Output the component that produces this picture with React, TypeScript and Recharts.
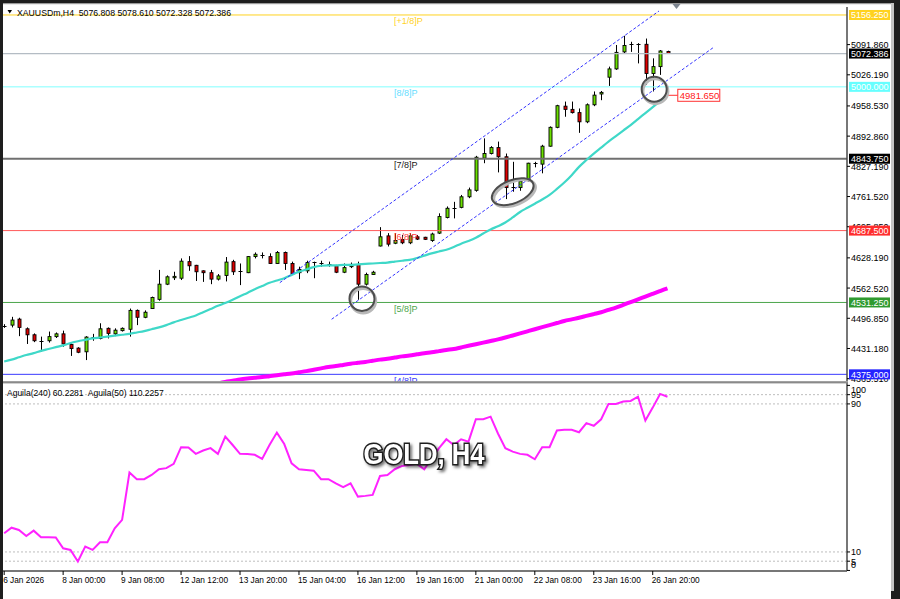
import React from 'react';
import { ComposedChart, Bar, Line, XAxis, YAxis, ReferenceLine, ReferenceDot } from 'recharts';

// ---------- data ----------
const opens = [
  4481, 4482, 4495, 4474, 4461, 4447, 4448, 4457, 4463, 4440,
  4432, 4424, 4455, 4453, 4475, 4463, 4470, 4473, 4514, 4499,
  4518, 4538, 4571, 4585, 4584, 4620, 4612, 4600, 4596, 4582,
  4590, 4620, 4598, 4596, 4631, 4635, 4631, 4616, 4640, 4616,
  4596, 4600, 4618, 4616.5, 4615.5, 4611, 4597, 4609, 4614, 4571,
  4592, 4654, 4676, 4660, 4668, 4661, 4674, 4673, 4666, 4682,
  4716, 4735, 4738, 4761, 4775, 4845, 4855, 4868, 4848, 4782,
  4781, 4796, 4833.5, 4832, 4871, 4912, 4958, 4951, 4944, 4924,
  4961, 4984.5, 5021, 5039, 5076, 5092, 5092.5, 5092.5, 5029, 5044,
  5076.808,
];
const highs = [
  4484, 4500, 4498, 4477, 4464, 4457, 4468, 4466, 4470, 4442,
  4434, 4458, 4463, 4486, 4477, 4475, 4477, 4518, 4516, 4514,
  4544, 4602, 4590, 4598, 4627, 4632, 4613, 4601, 4602, 4593,
  4630, 4624, 4616, 4632, 4640, 4640, 4638, 4643, 4642, 4620,
  4609, 4622, 4620, 4622, 4620, 4613, 4616, 4618, 4620, 4596,
  4600, 4695, 4682, 4682, 4678, 4682, 4678, 4674, 4683, 4725,
  4740, 4750, 4765, 4781, 4850, 4888, 4871, 4881, 4855, 4837,
  4801, 4835, 4837, 4874, 4914, 4961, 4968, 4968, 4953, 4964,
  4990, 4991, 5044, 5091, 5111, 5098, 5095, 5105, 5062, 5080,
  5078.61,
];
const lows = [
  4476, 4477, 4458, 4441, 4445, 4424, 4444, 4454, 4435, 4415,
  4421, 4406, 4448, 4451, 4453, 4458, 4468, 4457, 4482, 4497,
  4517, 4535, 4569, 4580, 4580, 4600, 4578, 4576, 4571, 4579,
  4577, 4591, 4569, 4595, 4627, 4627, 4615, 4615, 4602, 4591,
  4582, 4595, 4584, 4609, 4609, 4595, 4595, 4606, 4537, 4568,
  4591, 4653, 4653, 4658, 4658, 4658, 4667, 4667, 4663, 4680,
  4714, 4714, 4736, 4758, 4772, 4834, 4853, 4814, 4756, 4772,
  4774, 4794, 4825, 4812, 4870, 4910, 4935, 4942, 4900, 4921,
  4958, 4971, 5002, 5037, 5073, 5076, 5051, 5004, 4990, 5026,
  5072.328,
];
const closes = [
  4480, 4493, 4477, 4461, 4448, 4448, 4457, 4463, 4441, 4431,
  4423, 4456, 4456, 4474, 4464, 4471, 4475, 4514, 4499, 4510,
  4542, 4571, 4587, 4588, 4621, 4611, 4598, 4596, 4582, 4589,
  4619, 4598, 4599, 4631, 4636, 4635.5, 4616, 4640, 4616, 4593,
  4603, 4618, 4618.5, 4616, 4614.5, 4597, 4607, 4614, 4571, 4592,
  4597, 4674, 4658, 4666, 4661, 4676, 4669, 4668.5, 4680, 4718,
  4736, 4737, 4761, 4776, 4847, 4855, 4868, 4848, 4781, 4781,
  4795, 4834, 4834, 4871, 4912, 4959, 4951, 4944, 4924, 4961,
  4982, 4988, 5039, 5075, 5090, 5092.5, 5092, 5029, 5044, 5078,
  5072.386,
];
const maTurquoise = [
  4403, 4407, 4412, 4417, 4421, 4426, 4430, 4434, 4438, 4443,
  4447, 4450, 4453, 4455, 4457, 4459, 4461, 4463, 4466, 4469,
  4473, 4477, 4482, 4488, 4493, 4498, 4503, 4510, 4517, 4524,
  4530, 4537, 4545, 4552, 4560, 4567, 4574, 4579, 4584, 4591,
  4598, 4603, 4608, 4611, 4612, 4612, 4613, 4613, 4614, 4615,
  4616, 4617, 4618, 4620, 4622, 4624, 4628, 4633, 4638, 4642,
  4646, 4652, 4659, 4665, 4672, 4681, 4690, 4697, 4705, 4716,
  4728, 4737, 4746, 4755, 4765, 4778, 4792, 4808, 4826, 4841,
  4855, 4868, 4881, 4893, 4905, 4917, 4930, 4943, 4956, 4969,
  4982,
];
const maMagenta: (number | null)[] = [
  null, null, null, null, null, null, null, null, null, null,
  null, null, null, null, null, null, null, null, null, null,
  null, null, null, null, null, null, null, null, 4352, 4355,
  4358.5, 4361, 4364, 4366, 4367.5, 4369, 4371, 4373, 4375, 4377,
  4379.5, 4382, 4385, 4388, 4391, 4393, 4395.5, 4398, 4400, 4402,
  4404.5, 4407, 4409, 4411.5, 4414, 4416, 4418.5, 4421, 4423, 4425.5,
  4428, 4430, 4433.5, 4437, 4440.5, 4444, 4447.5, 4451, 4455, 4459.5,
  4464, 4468.5, 4473, 4477.5, 4482, 4486.5, 4491, 4494.5, 4498, 4502,
  4506, 4510, 4515, 4520, 4526, 4532, 4538, 4544, 4550, 4556,
  4562,
];
const aguila = [
  20.1, 23.1, 21.9, 18.6, 21.5, 17.9, 17.9, 17.8, 12.0, 11.1,
  4.8, 12.9, 11.1, 15.2, 15.2, 22.8, 27.3, 52.9, 49.3, 49.3,
  51.6, 54.7, 55.3, 57.6, 66.6, 66.4, 63.0, 64.8, 66.1, 63.0,
  72.3, 67.8, 63.0, 62.9, 62.5, 60.3, 67.8, 74.5, 68.3, 57.9,
  54.7, 54.3, 53.9, 49.3, 49.3, 47.0, 45.0, 47.1, 39.9, 40.3,
  40.8, 51.1, 51.6, 54.7, 56.5, 57.0, 57.6, 54.7, 60.5, 66.1,
  70.9, 67.8, 70.9, 69.6, 81.7, 81.7, 83.1, 74.0, 66.1, 64.2,
  63.0, 62.5, 60.1, 66.6, 66.6, 75.6, 76.0, 76.0, 74.7, 79.6,
  78.2, 81.7, 90.0, 90.0, 91.3, 91.6, 93.9, 81.0, 88.0, 95.4,
  93.9,
];

const timeLabels = ['6 Jan 2026', '8 Jan 00:00', '9 Jan 08:00', '12 Jan 12:00', '13 Jan 20:00', '15 Jan 04:00',
  '16 Jan 12:00', '19 Jan 16:00', '21 Jan 00:00', '22 Jan 08:00', '23 Jan 16:00', '26 Jan 20:00'];
const timeTickBars = [0, 8, 16, 24, 32, 40, 48, 56, 64, 72, 80, 88];

const priceTicks = [5091.86, 5026.19, 4958.53, 4892.86, 4827.19, 4761.52, 4695.85, 4628.19, 4562.52, 4496.85, 4431.18, 4365.51];
const murreyLevels = [5156.25, 5000, 4843.75, 4687.5, 4531.25, 4375];
const murreyTags = ['[+1/8]P', '[8/8]P', '[7/8]P', '[6/8]P', '[5/8]P', '[4/8]P'];
const aguilaTicks = [100, 95, 90, 10, 5, 0];
const aguilaLevels = [95, 90, 10, 5];

// channel lines (bar index, price)
const upperChannel = [{ x: 37.4, y: 4574.3 }, { x: 88.85, y: 5164.9 }];
const lowerChannel = [{ x: 44.43, y: 4494.7 }, { x: 96.27, y: 5086.0 }];
// touch marks (bar index, price)
const touchMarks = [{ k: 48.55, p: 4539.4 }, { k: 69.0, p: 4772.1 }, { k: 88.2, p: 4994.9 }];
const priceFlag = 4981.65;
const priceFlagFrom = 90;
const priceFlagTo = 91.4;

// ---------- styles ----------
const FONT = '"Liberation Sans", Arial, sans-serif';
const murreyLineColors = ['#FFD21F', '#80FFFF', '#707070', '#FF5A5A', '#4CA64C', '#3A3AFF'];
const murreyLineWidths = [1, 1, 2, 1, 1, 1];
const murreyTagColors = ['#FFD21F', '#66DDFF', '#1a1a1a', '#FF3B3B', '#4CA64C', '#3A3AFF'];
const murreyBoxColors = ['#FFD21F', '#66FFFF', '#000000', '#FF2E2E', '#2F9A2F', '#2424FF'];
const ringShapes = [{ rx: 12.5, ry: 12.2, rot: 0 }, { rx: 22, ry: 11.5, rot: -22 }, { rx: 12.5, ry: 12.5, rot: 0 }];

const X_DOMAIN: [number, number] = [-0.16, 114.36];
const PRICE_DOMAIN: [number, number] = [4360.5, 5173.6];
const AGUILA_DOMAIN: [number, number] = [-0.3, 101.3];

const last = closes.length - 1;
const lastClose = closes[last];
const axisBoxValues = [...murreyLevels, lastClose];
const axisBoxColors = [...murreyBoxColors, '#000000'];

const rows = opens.map((o, k) => ({
  k, o, h: highs[k], l: lows[k], c: closes[k],
  range: [lows[k], highs[k]],
  ma1: maTurquoise[k], ma2: maMagenta[k],
}));
const aguilaRows = aguila.map((v, k) => ({ k, v }));

// ---------- renderers ----------
function Candle(props: any) {
  const { x, y, width, height, payload } = props;
  if (!payload || height == null || isNaN(y)) return null;
  const { o, h, l, c } = payload;
  const cx = Math.round(x + width / 2) + 0.5;
  const ppu = height / (h - l);
  const yO = y + (h - o) * ppu;
  const yC = y + (h - c) * ppu;
  const top = Math.min(yO, yC);
  const bot = Math.max(yO, yC);
  const up = c >= o;
  const bodyH = bot - top;
  return (
    <g>
      <line x1={cx} x2={cx} y1={y} y2={y + height} stroke="#000" strokeWidth={1} />
      {bodyH < 1.2 ? (
        <line x1={cx - 2} x2={cx + 2} y1={Math.round(top) + 0.5} y2={Math.round(top) + 0.5} stroke="#000" strokeWidth={1} />
      ) : (
        <rect x={cx - 1.5} y={top} width={3} height={bodyH} fill={up ? '#6BE000' : '#E00000'} stroke="#000" strokeWidth={0.9} />
      )}
    </g>
  );
}

function PriceTick(props: any) {
  const { x, y, payload } = props;
  const v = payload.value as number;
  const idx = axisBoxValues.indexOf(v);
  const txt = v.toFixed(3);
  if (idx >= 0) {
    return (
      <g>
        <rect x={x - 2} y={y - 5} width={41} height={10} fill={axisBoxColors[idx]} />
        <text x={x} y={y + 3.5} fontSize={9} fill="#fff" fontFamily={FONT} textAnchor="start">{txt}</text>
      </g>
    );
  }
  return (
    <g>
      <line x1={x - 4} x2={x - 1} y1={y} y2={y} stroke="#000" />
      <text x={x} y={y + 3.5} fontSize={9} fill="#000" fontFamily={FONT} textAnchor="start">{txt}</text>
    </g>
  );
}

function AguilaTick(props: any) {
  const { x, y, payload } = props;
  const v = payload.value as number;
  const dy = v === 100 ? 4.5 : v === 0 ? -6 : 0;
  return (
    <g>
      <line x1={x - 4} x2={x - 1} y1={y} y2={y} stroke="#000" />
      <text x={x} y={y + dy + 3.5} fontSize={9} fill="#000" fontFamily={FONT} textAnchor="start">{v}</text>
    </g>
  );
}

function TimeTick(props: any) {
  const { x, y, payload } = props;
  const i = timeTickBars.indexOf(payload.value);
  return (
    <g>
      <line x1={x} x2={x} y1={y - 6} y2={y - 2} stroke="#000" />
      <text x={x - 1} y={y + 6} fontSize={8.3} fill="#000" fontFamily={FONT} textAnchor="start">{timeLabels[i]}</text>
    </g>
  );
}

function Ring(props: any) {
  const { cx, cy, rx, ry, rot } = props;
  return (
    <g transform={`rotate(${rot} ${cx} ${cy})`}>
      <ellipse cx={cx + 1.2} cy={cy + 2} rx={rx} ry={ry} fill="none" stroke="#b8b8b8" strokeWidth={3} />
      <ellipse cx={cx} cy={cy} rx={rx} ry={ry} fill="none" stroke="#4d4d4d" strokeWidth={2} />
    </g>
  );
}

function FlagBox(props: any) {
  const { cx, cy } = props;
  return (
    <g>
      <rect x={cx} y={cy - 6} width={42} height={12} fill="#fff" stroke="#FF3030" strokeWidth={1} />
      <text x={cx + 2} y={cy + 3.5} fontSize={9.5} fill="#FF2020" fontFamily={FONT}>{priceFlag.toFixed(3)}</text>
    </g>
  );
}

export default function App() {
  const titleText = `XAUUSDm,H4  ${opens[last].toFixed(3)} ${highs[last].toFixed(3)} ${lows[last].toFixed(3)} ${closes[last].toFixed(3)}`;
  return (
    <div style={{ position: 'absolute', left: 0, top: 0, width: 900, height: 599, background: '#1e1e1e', overflow: 'hidden', fontFamily: FONT }}>
      <div style={{ position: 'absolute', left: 3, top: 3, width: 891, height: 588, background: '#c4c4c4' }} />
      <div style={{ position: 'absolute', left: 3, top: 3, width: 888, height: 585, background: '#ffffff' }} />

      {/* main price panel */}
      <div style={{ position: 'absolute', left: 0, top: 0 }}>
        <ComposedChart width={900} height={390} data={rows} margin={{ top: 7, right: 9, bottom: 9, left: 3 }}>
          <XAxis type="number" dataKey="k" domain={X_DOMAIN} allowDataOverflow hide />
          <YAxis
            orientation="right"
            type="number"
            domain={PRICE_DOMAIN}
            allowDataOverflow
            ticks={[...priceTicks, ...axisBoxValues]}
            interval={0}
            width={44}
            tickSize={3}
            tickMargin={1}
            tickLine={false}
            axisLine={{ stroke: '#4a4a4a', strokeWidth: 1.5 }}
            tick={(p: any) => <PriceTick {...p} />}
          />
          {murreyLevels.map((lv, i) => (
            <ReferenceLine
              key={'m' + i}
              y={lv}
              stroke={murreyLineColors[i]}
              strokeWidth={murreyLineWidths[i]}
              ifOverflow="visible"
              label={(p: any) => (
                <text x={p.viewBox.x + 391} y={p.viewBox.y + 9.5} fontSize={9} fill={murreyTagColors[i]} fontFamily={FONT}>
                  {murreyTags[i]}
                </text>
              )}
            />
          ))}
          <ReferenceLine y={lastClose} stroke="#B4BCC4" strokeWidth={1.2} />
          <Line dataKey="ma1" type="monotone" stroke="#3FD8C8" strokeWidth={2.2} dot={false} isAnimationActive={false} />
          <Line dataKey="ma2" type="monotone" stroke="#FF00FF" strokeWidth={4} dot={false} isAnimationActive={false} />
          <Bar dataKey="range" barSize={4} isAnimationActive={false} shape={(p: any) => <Candle {...p} />} />
          <ReferenceLine segment={upperChannel} stroke="#3535FF" strokeWidth={1} strokeDasharray="3 2" />
          <ReferenceLine segment={lowerChannel} stroke="#3535FF" strokeWidth={1} strokeDasharray="3 2" />
          {touchMarks.map((m, i) => (
            <ReferenceDot key={'t' + i} x={m.k} y={m.p} r={12}
              shape={(p: any) => <Ring {...p} rx={ringShapes[i].rx} ry={ringShapes[i].ry} rot={ringShapes[i].rot} />} />
          ))}
          <ReferenceLine segment={[{ x: priceFlagFrom, y: priceFlag }, { x: priceFlagTo, y: priceFlag }]} stroke="#FF3030" strokeWidth={1} />
          <ReferenceDot x={priceFlagTo} y={priceFlag} r={6} shape={(p: any) => <FlagBox {...p} />} />
        </ComposedChart>
      </div>

      {/* indicator panel */}
      <div style={{ position: 'absolute', left: 3, top: 382, width: 888, height: 217, background: '#fff' }}>
        <ComposedChart width={888} height={217} data={aguilaRows} margin={{ top: 1, right: 0, bottom: 8, left: 0 }}>
          <XAxis
            type="number"
            dataKey="k"
            domain={X_DOMAIN}
            allowDataOverflow
            ticks={timeTickBars}
            interval={0}
            height={20}
            tickSize={4}
            tickMargin={2}
            tickLine={false}
            axisLine={{ stroke: '#4a4a4a', strokeWidth: 1.5 }}
            tick={(p: any) => <TimeTick {...p} />}
          />
          <YAxis
            orientation="right"
            type="number"
            domain={AGUILA_DOMAIN}
            allowDataOverflow
            ticks={aguilaTicks}
            interval={0}
            width={44}
            tickSize={3}
            tickMargin={1}
            tickLine={false}
            axisLine={{ stroke: '#4a4a4a', strokeWidth: 1.5 }}
            tick={(p: any) => <AguilaTick {...p} />}
          />
          {aguilaLevels.map((lv) => (
            <ReferenceLine key={'a' + lv} y={lv} stroke="#BDBDBD" strokeDasharray="2 2" />
          ))}
          <Line dataKey="v" type="linear" stroke="#FF22FF" strokeWidth={2} dot={false} isAnimationActive={false} />
        </ComposedChart>
      </div>

      {/* frame decorations and captions */}
      <svg width={900} height={599} style={{ position: 'absolute', left: 0, top: 0, pointerEvents: 'none' }}>
        <rect x={3} y={3} width={888} height={1.2} fill="#9a9a9a" />
        <rect x={3} y={381.2} width={845} height={2.2} fill="#8a8a8a" />
        <polygon points="672.5,4 680.5,4 676.5,9" fill="#7d8590" />
        <polygon points="7.5,10 12,10 9.75,13.5" fill="#000" />
        <text x={17} y={15.5} fontSize={8.7} fill="#000" fontFamily={FONT} style={{ whiteSpace: 'pre' }}>{titleText}</text>
        <text x={7} y={395.5} fontSize={8.5} fill="#000" fontFamily={FONT} style={{ whiteSpace: 'pre' }}>Aguila(240) 60.2281  Aguila(50) 110.2257</text>
        <text
          x={424} y={464} textAnchor="middle" fontSize={29} fontWeight="bold" fontFamily={FONT}
          fill="#ffffff" stroke="#1e1e1e" strokeWidth={3} paintOrder="stroke"
          textLength={121} lengthAdjust="spacingAndGlyphs"
          style={{ filter: 'drop-shadow(2px 2px 1.5px rgba(0,0,0,0.55))' }}
        >
          GOLD, H4
        </text>
      </svg>
    </div>
  );
}
